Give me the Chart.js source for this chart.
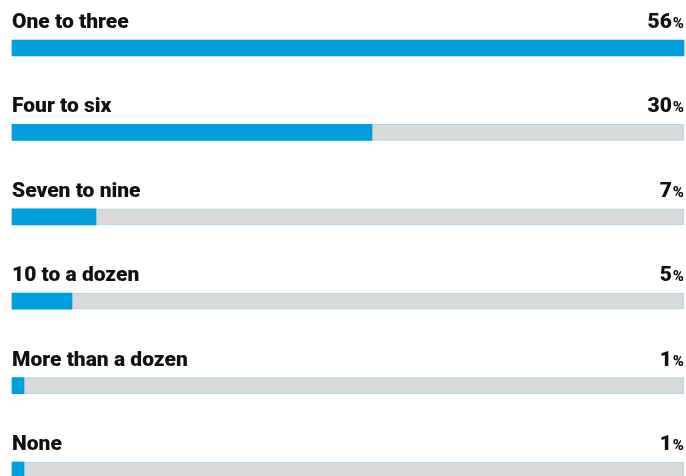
<!DOCTYPE html>
<html>
<head>
<meta charset="utf-8">
<script src="https://cdn.jsdelivr.net/npm/chart.js@4.4.1/dist/chart.umd.min.js"></script>
<style>
  html, body { margin: 0; padding: 0; background: #ffffff; overflow: hidden; }
  #wrap { width: 686px; height: 476px; position: relative; }
</style>
</head>
<body>
<div id="wrap"><canvas id="c"></canvas></div>
<script>
// Answers and their shares (%)
const categories = ['One to three', 'Four to six', 'Seven to nine', '10 to a dozen', 'More than a dozen', 'None'];
const shares = [56, 30, 7, 5, 1, 1];
const scaleMax = 56;
const track = categories.map(() => scaleMax);

const BLUE = '#009edb';
const TRACK = '#d8d9d9';
const TRACK_EDGE = '#a9d8ef';
const INK = '#111111';
const FONT = 'Roboto, "Noto Sans", sans-serif';

// Writes the answer above each bar and its share at the right end
const rowLabels = {
  id: 'rowLabels',
  afterDatasetsDraw(chart) {
    const { ctx, chartArea } = chart;
    const meta = chart.getDatasetMeta(1);
    ctx.save();
    ctx.fillStyle = INK;
    ctx.textBaseline = 'alphabetic';
    meta.data.forEach((bar, i) => {
      const y = bar.y - 20;
      ctx.font = '900 21px ' + FONT;
      ctx.textAlign = 'left';
      ctx.fillText(categories[i], chartArea.left, y);
      ctx.font = '900 15px ' + FONT;
      ctx.textAlign = 'right';
      const pctW = ctx.measureText('%').width;
      ctx.fillText('%', chartArea.right, y);
      ctx.font = '900 21px ' + FONT;
      ctx.fillText(String(shares[i]), chartArea.right - pctW - 1, y);
    });
    ctx.restore();
  }
};

new Chart(document.getElementById('c'), {
  type: 'bar',
  data: {
    labels: categories,
    datasets: [
      {
        data: track,
        backgroundColor: TRACK,
        borderColor: TRACK_EDGE,
        borderWidth: 1,
        borderSkipped: false,
        barThickness: 16,
        grouped: false,
        order: 2,
        clip: false
      },
      {
        data: shares,
        backgroundColor: BLUE,
        borderWidth: 0,
        barThickness: 16,
        grouped: false,
        order: 1,
        clip: false
      }
    ]
  },
  options: {
    indexAxis: 'y',
    responsive: true,
    maintainAspectRatio: false,
    animation: false,
    layout: { padding: { top: 48, bottom: 6, left: 12, right: 2 } },
    scales: {
      x: { display: false, min: 0, max: scaleMax },
      y: { display: false, offset: false }
    },
    plugins: {
      legend: { display: false },
      tooltip: { enabled: false }
    }
  },
  plugins: [rowLabels]
});
</script>
</body>
</html>
